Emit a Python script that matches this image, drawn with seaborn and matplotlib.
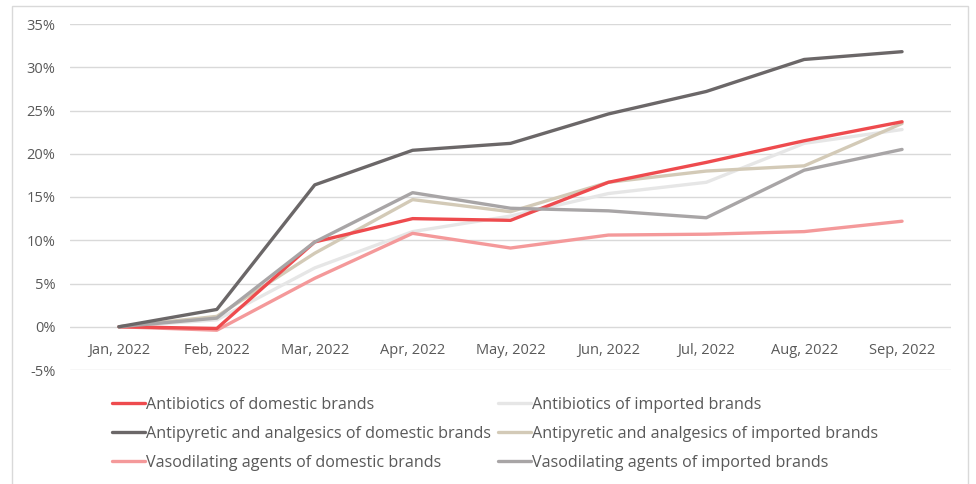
import matplotlib
matplotlib.use("Agg")
import matplotlib.pyplot as plt
import seaborn as sns
import pandas as pd
from matplotlib.patches import Rectangle
from matplotlib.ticker import FuncFormatter

months = ["Jan, 2022", "Feb, 2022", "Mar, 2022", "Apr, 2022", "May, 2022",
          "Jun, 2022", "Jul, 2022", "Aug, 2022", "Sep, 2022"]

antibiotics_domestic = [0, -0.2, 9.8, 12.5, 12.3, 16.7, 19.0, 21.5, 23.7]
antibiotics_imported = [0, 0.8, 6.8, 11.0, 12.8, 15.4, 16.7, 21.2, 22.8]
antipyretic_domestic = [0, 2.0, 16.4, 20.4, 21.2, 24.6, 27.2, 30.9, 31.8]
antipyretic_imported = [0, 1.2, 8.5, 14.7, 13.3, 16.7, 18.0, 18.6, 23.5]
vasodilating_domestic = [0, -0.4, 5.6, 10.8, 9.1, 10.6, 10.7, 11.0, 12.2]
vasodilating_imported = [0, 1.0, 9.8, 15.5, 13.7, 13.4, 12.6, 18.1, 20.5]

series_names = [
    "Antibiotics of domestic brands",
    "Antibiotics of imported brands",
    "Antipyretic and analgesics of domestic brands",
    "Antipyretic and analgesics of imported brands",
    "Vasodilating agents of domestic brands",
    "Vasodilating agents of imported brands",
]
series_values = [antibiotics_domestic, antibiotics_imported, antipyretic_domestic,
                 antipyretic_imported, vasodilating_domestic, vasodilating_imported]
colors = ["#EE4B4E", "#E6E6E6", "#6B6768", "#D3CAB7", "#F4999A", "#A8A5A6"]

rows = []
for name, vals in zip(series_names, series_values):
    for i, (m, v) in enumerate(zip(months, vals)):
        rows.append({"month": m, "idx": i, "value": v, "series": name})
df = pd.DataFrame(rows)

sns.set_theme(style="white")
plt.rcParams["font.family"] = ["Open Sans", "DejaVu Sans"]

fig = plt.figure(figsize=(9.76, 4.84), dpi=100)
ax = fig.add_axes([70 / 976, 1 - 370 / 484, (951 - 70) / 976, (370 - 24) / 484])

# draw order: back to front roughly as in reference
draw_order = [1, 4, 3, 0, 5, 2]
for k in draw_order:
    sub = df[df["series"] == series_names[k]]
    sns.lineplot(data=sub, x="idx", y="value", color=colors[k], linewidth=2.4,
                 ax=ax, label=series_names[k], legend=False, zorder=3)

ax.set_xlim(-0.5, 8.5)
ax.set_ylim(-5, 35)
ax.set_yticks(range(-5, 36, 5))
ax.yaxis.set_major_formatter(FuncFormatter(lambda v, p: f"{int(v)}%"))
ax.set_xticks(range(len(months)))
ax.set_xticklabels(months)
ax.grid(axis="y", color="#D9D9D9", linewidth=1.0, zorder=0)
ax.grid(axis="x", visible=False)
for s in ["top", "right", "left"]:
    ax.spines[s].set_visible(False)
ax.spines["bottom"].set_position(("data", 0))
ax.spines["bottom"].set_color("none")
ax.tick_params(axis="x", length=0, pad=11.5, labelsize=10.5, labelcolor="#595959")
ax.tick_params(axis="y", length=0, pad=10.5, labelsize=10.5, labelcolor="#595959")
ax.set_xlabel("")
ax.set_ylabel("")

# legend (row-major order in reference -> reorder for column-major fill)
handles_map = {h.get_label(): h for h in ax.get_lines()}
leg_order = [0, 2, 4, 1, 3, 5]
hs = [handles_map[series_names[i]] for i in leg_order]
ls = [series_names[i] for i in leg_order]
fig.legend(hs, ls, ncol=2, frameon=False, loc="upper left",
           bbox_to_anchor=(112 / 976, 1 - 397 / 484), fontsize=11.6,
           borderpad=0, borderaxespad=0,
           handlelength=2.05, handletextpad=0.05, columnspacing=0.45,
           labelspacing=0.8, labelcolor="#595959")

# outer chart frame
fig.patches.append(Rectangle((12 / 976, -0.01), (968 - 12) / 976, 1 - 6 / 484 + 0.01,
                             transform=fig.transFigure, fill=False,
                             edgecolor="#D9D9D9", linewidth=1.0))

fig.savefig("out.png", dpi=100)
